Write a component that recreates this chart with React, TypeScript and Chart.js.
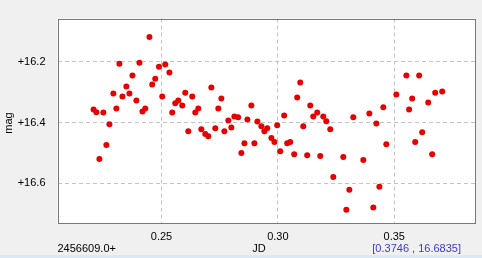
import React, { useEffect, useRef } from "react";
import { Chart, registerables } from "chart.js";

Chart.register(...registerables);

// JD offsets (2456609.0+) and magnitudes
const jd: number[] = [
  0.2208, 0.2220, 0.2233, 0.2250, 0.2263, 0.2276, 0.2293, 0.2306, 0.2319, 0.2332,
  0.2349, 0.2362, 0.2375, 0.2392, 0.2405, 0.2418, 0.2430, 0.2448, 0.2460, 0.2473,
  0.2489, 0.2503, 0.2516, 0.2534, 0.2546, 0.2559, 0.2572, 0.2589, 0.2602, 0.2615,
  0.2632, 0.2645, 0.2658, 0.2671, 0.2688, 0.2701, 0.2714, 0.2731, 0.2744, 0.2757,
  0.2770, 0.2787, 0.2800, 0.2813, 0.2829, 0.2843, 0.2856, 0.2869, 0.2886, 0.2899,
  0.2912, 0.2929, 0.2942, 0.2954, 0.2972, 0.2985, 0.2997, 0.3010, 0.3027, 0.3040,
  0.3053, 0.3070, 0.3083, 0.3096, 0.3109, 0.3126, 0.3139, 0.3152, 0.3169, 0.3182,
  0.3195, 0.3208, 0.3225, 0.3238, 0.3281, 0.3294, 0.3307, 0.3324, 0.3367, 0.3393,
  0.3410, 0.3423, 0.3436, 0.3453, 0.3466, 0.3509, 0.3552, 0.3564, 0.3577, 0.3590,
  0.3607, 0.3620, 0.3646, 0.3663, 0.3676, 0.3706,
];
const mag: number[] = [
  16.357, 16.366, 16.520, 16.367, 16.474, 16.406, 16.305, 16.354, 16.207, 16.315,
  16.282, 16.305, 16.246, 16.328, 16.204, 16.364, 16.354, 16.119, 16.275, 16.256,
  16.217, 16.315, 16.210, 16.236, 16.367, 16.337, 16.328, 16.344, 16.302, 16.429,
  16.315, 16.367, 16.354, 16.422, 16.438, 16.445, 16.285, 16.419, 16.354, 16.321,
  16.429, 16.393, 16.416, 16.380, 16.383, 16.500, 16.468, 16.390, 16.344, 16.468,
  16.397, 16.412, 16.429, 16.419, 16.451, 16.464, 16.409, 16.494, 16.377, 16.468,
  16.464, 16.504, 16.318, 16.269, 16.412, 16.507, 16.344, 16.380, 16.367, 16.510,
  16.380, 16.396, 16.422, 16.579, 16.513, 16.686, 16.621, 16.383, 16.523, 16.370,
  16.679, 16.403, 16.611, 16.350, 16.471, 16.308, 16.246, 16.357, 16.321, 16.464,
  16.246, 16.432, 16.334, 16.504, 16.302, 16.298,
];

const xRange: number[] = [0.2053, 0.385];
const yRange: number[] = [16.059, 16.733];
const xStep = 0.05;
const yStep = 0.2;

const xTitle = "JD";
const yTitle = "mag";
const jdBase = "2456609.0+";
const readout = "[0.3746 , 16.6835]";

const FONT = "'Liberation Sans', Arial, sans-serif";

const extrasPlugin = {
  id: "extras",
  beforeDraw(chart: any) {
    const { ctx, chartArea: a } = chart;
    ctx.save();
    ctx.fillStyle = "#ffffff";
    ctx.fillRect(a.left, a.top, a.right - a.left, a.bottom - a.top);
    ctx.restore();
  },
  afterDraw(chart: any) {
    const { ctx, chartArea: a } = chart;
    ctx.save();
    ctx.strokeStyle = "#787878";
    ctx.lineWidth = 1;
    ctx.strokeRect(Math.round(a.left) + 0.5, Math.round(a.top) + 0.5, Math.round(a.right - a.left) - 1, Math.round(a.bottom - a.top) - 1);
    ctx.font = `11px ${FONT}`;
    ctx.fillStyle = "#000000";
    ctx.textBaseline = "middle";
    ctx.textAlign = "left";
    ctx.fillText(jdBase, a.left, 248.5);
    ctx.textAlign = "center";
    ctx.fillText(xTitle, 259, 248.5);
    ctx.fillStyle = "#3a3ac8";
    ctx.textAlign = "right";
    ctx.fillText(readout, 461, 248.5);
    ctx.fillStyle = "#000000";
    ctx.translate(9, 123);
    ctx.rotate(-Math.PI / 2);
    ctx.textAlign = "center";
    ctx.fillText(yTitle, 0, 0);
    ctx.restore();
  },
};

export default function App() {
  const ref = useRef<HTMLCanvasElement | null>(null);
  useEffect(() => {
    document.body.style.margin = "0";
    if (!ref.current) return;
    const chart = new Chart(ref.current, {
      type: "scatter",
      data: {
        datasets: [
          {
            data: jd.map((x, i) => ({ x, y: mag[i] })),
            backgroundColor: "rgb(232,0,0)",
            borderColor: "rgb(232,0,0)",
            borderWidth: 0,
            pointRadius: 3,
            pointHoverRadius: 3,
          },
        ],
      },
      options: {
        animation: false,
        responsive: true,
        maintainAspectRatio: false,
        layout: { padding: { left: 0, right: 6.3, top: 17.3, bottom: 0 } },
        plugins: { legend: { display: false }, tooltip: { enabled: false } },
        scales: {
          x: {
            type: "linear",
            min: xRange[0],
            max: xRange[1],
            afterFit: (s: any) => { s.height = 34; },
            ticks: {
              stepSize: xStep,
              includeBounds: false,
              padding: 6,
              color: "#000",
              font: { family: FONT, size: 11 },
              callback: (v: any) => Number(v).toFixed(2),
            },
            grid: { color: "#c4c4c4", drawTicks: false, lineWidth: 1 },
            border: { display: false, dash: [4, 3] },
          },
          y: {
            type: "linear",
            reverse: true,
            min: yRange[0],
            max: yRange[1],
            afterFit: (s: any) => { s.width = 57.5; },
            ticks: {
              stepSize: yStep,
              includeBounds: false,
              padding: 12,
              color: "#000",
              font: { family: FONT, size: 11 },
              callback: (v: any) => "+" + Number(v).toFixed(1),
            },
            grid: { color: "#c4c4c4", drawTicks: false, lineWidth: 1 },
            border: { display: false, dash: [4, 3] },
          },
        },
      },
      plugins: [extrasPlugin],
    });
    return () => chart.destroy();
  }, []);
  return (
    <div style={{ position: "absolute", left: 0, top: 0, width: 482, height: 258, background: "#f0f0f0" }}>
      <div style={{ position: "absolute", left: 0, top: 0, width: 482, height: 258 }}>
        <canvas ref={ref} />
      </div>
      <div style={{ position: "absolute", left: 0, top: 255, width: 482, height: 3, background: "#dde8f5" }} />
    </div>
  );
}
